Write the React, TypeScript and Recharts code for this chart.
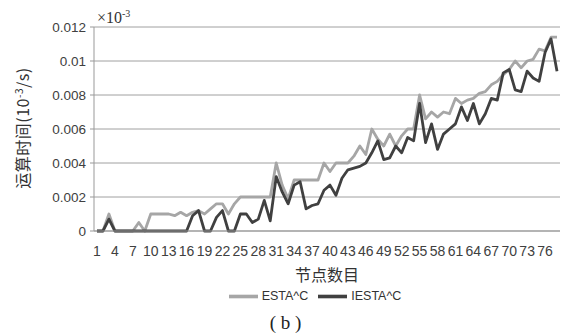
import { CartesianGrid, Legend, Line, LineChart, XAxis, YAxis } from "recharts";

// 节点数目 1..78
const nodes = Array.from({ length: 78 }, (_, i) => i + 1);

const esta = [
  0, 0, 0.001, 0, 0, 0, 0, 0.0005, 0, 0.001,
  0.001, 0.001, 0.001, 0.0009, 0.0011, 0.0009, 0.0011, 0.0012, 0.001, 0.0013,
  0.0016, 0.0016, 0.001, 0.0016, 0.002, 0.002, 0.002, 0.002, 0.002, 0.002,
  0.004, 0.0027, 0.0019, 0.003, 0.003, 0.003, 0.003, 0.003, 0.004, 0.0035,
  0.004, 0.004, 0.004, 0.0044, 0.005, 0.0045, 0.006, 0.0054, 0.005, 0.0057,
  0.005, 0.0056, 0.006, 0.006, 0.008, 0.0066, 0.007, 0.0067, 0.007, 0.0069,
  0.0078, 0.0075, 0.0077, 0.0078, 0.0081, 0.0082, 0.0086, 0.0088, 0.0092, 0.0095,
  0.01, 0.0096, 0.01, 0.0101, 0.0107, 0.0106, 0.0114, 0.0114,
];

const iesta = [
  0, 0, 0.0007, 0, 0, 0, 0, 0, 0, 0,
  0, 0, 0, 0, 0, 0, 0.0009, 0.0012, 0, 0,
  0.0008, 0.0012, 0, 0, 0.001, 0.001, 0.0005, 0.0007, 0.0018, 0.0006,
  0.0032, 0.0023, 0.0016, 0.0027, 0.0029, 0.0013, 0.0015, 0.0016, 0.0024, 0.0027,
  0.0021, 0.0031, 0.0036, 0.0037, 0.0038, 0.004, 0.0046, 0.0053, 0.0042, 0.0043,
  0.005, 0.0046, 0.0055, 0.0053, 0.0075, 0.0052, 0.0063, 0.0048, 0.0057, 0.006,
  0.0063, 0.0073, 0.0065, 0.0075, 0.0063, 0.0069, 0.0078, 0.0077, 0.0093, 0.0095,
  0.0083, 0.0082, 0.0094, 0.009, 0.0088, 0.0105, 0.0113, 0.0094,
];

const xLabelTicks = [1, 4, 7, 10, 13, 16, 19, 22, 25, 28, 31, 34, 37, 40, 43, 46, 49, 52, 55, 58, 61, 64, 67, 70, 73, 76];
// tick marks sit between categories, Excel style
const xBoundaryTicks = Array.from({ length: 79 }, (_, i) => i + 0.5);
const yTicks = [0, 0.002, 0.004, 0.006, 0.008, 0.01, 0.012];

const data = nodes.map((n, i) => ({ n, esta: esta[i], iesta: iesta[i] }));

const SANS = "Liberation Sans, sans-serif";
const CJK = "'Noto Sans CJK SC', sans-serif";
const SERIF = "'Liberation Serif', serif";

export default function App() {
  return (
    <div style={{ position: "absolute", left: 0, top: 0, width: 571, height: 334, background: "#fff" }}>
      <LineChart width={571} height={334} data={data} margin={{ top: 27, right: 11, bottom: 53, left: 0 }}>
        <CartesianGrid vertical={false} stroke="#a0a0a0" />
        <XAxis
          xAxisId="marks"
          dataKey="n"
          type="number"
          domain={[0.5, 78.5]}
          ticks={xBoundaryTicks}
          interval={0}
          height={0}
          axisLine={false}
          tickLine={{ stroke: "#999" }}
          tickSize={5}
          tickFormatter={() => ""}
        />
        <XAxis
          xAxisId="main"
          dataKey="n"
          type="number"
          domain={[0.5, 78.5]}
          ticks={xLabelTicks}
          interval={0}
          height={50}
          axisLine={{ stroke: "#999" }}
          tickLine={false}
          tickSize={6}
          tickMargin={9}
          tick={{ fontSize: 14, fill: "#404040", fontFamily: SANS }}
          label={{
            value: "节点数目", position: "insideBottom", offset: 0,
            style: { fontSize: 16, fill: "#333", fontFamily: CJK },
          }}
        />
        <YAxis
          width={94}
          domain={[0, 0.012]}
          ticks={yTicks}
          interval={0}
          axisLine={{ stroke: "#999" }}
          tickLine={{ stroke: "#999" }}
          tickSize={4}
          tickMargin={4}
          tick={{ fontSize: 13.5, fill: "#404040", fontFamily: SANS }}
          tickFormatter={(v) => (v === 0 ? "0" : String(+Number(v).toFixed(3)))}
        />
        <Legend
          verticalAlign="middle"
          align="center"
          iconSize={29}
          wrapperStyle={{ top: 282, left: 70, width: 500, fontSize: 12.5, fontFamily: SANS }}
          formatter={(v) => <span style={{ color: "#333" }}>{v}</span>}
        />
        <Line xAxisId="main" dataKey="esta" name="ESTA^C" stroke="#a6a6a6" strokeWidth={2.8}
          dot={false} legendType="plainline" isAnimationActive={false} strokeLinejoin="round" />
        <Line xAxisId="main" dataKey="iesta" name="IESTA^C" stroke="#404040" strokeWidth={2.8}
          dot={false} legendType="plainline" isAnimationActive={false} strokeLinejoin="round" />
      </LineChart>

      <div style={{
        position: "absolute", left: 19 - 100, top: 128 - 11, width: 200, height: 22, lineHeight: "22px",
        textAlign: "center", transform: "rotate(-90deg)", fontSize: 16, letterSpacing: 0.5,
        color: "#333", fontFamily: CJK,
      }}>
        运算时间(10<sup style={{ fontSize: 10 }}>-3</sup>/s)
      </div>

      <div style={{
        position: "absolute", left: 97, top: 4, fontSize: 16, color: "#333",
        fontFamily: SERIF, lineHeight: "20px",
      }}>
        ×10<sup style={{ fontSize: 10 }}>-3</sup>
      </div>

      <div style={{
        position: "absolute", left: 0, top: 311, width: 571, textAlign: "center", fontSize: 19,
        color: "#222", fontFamily: SERIF, lineHeight: "24px",
      }}>
        ( b )
      </div>
    </div>
  );
}
